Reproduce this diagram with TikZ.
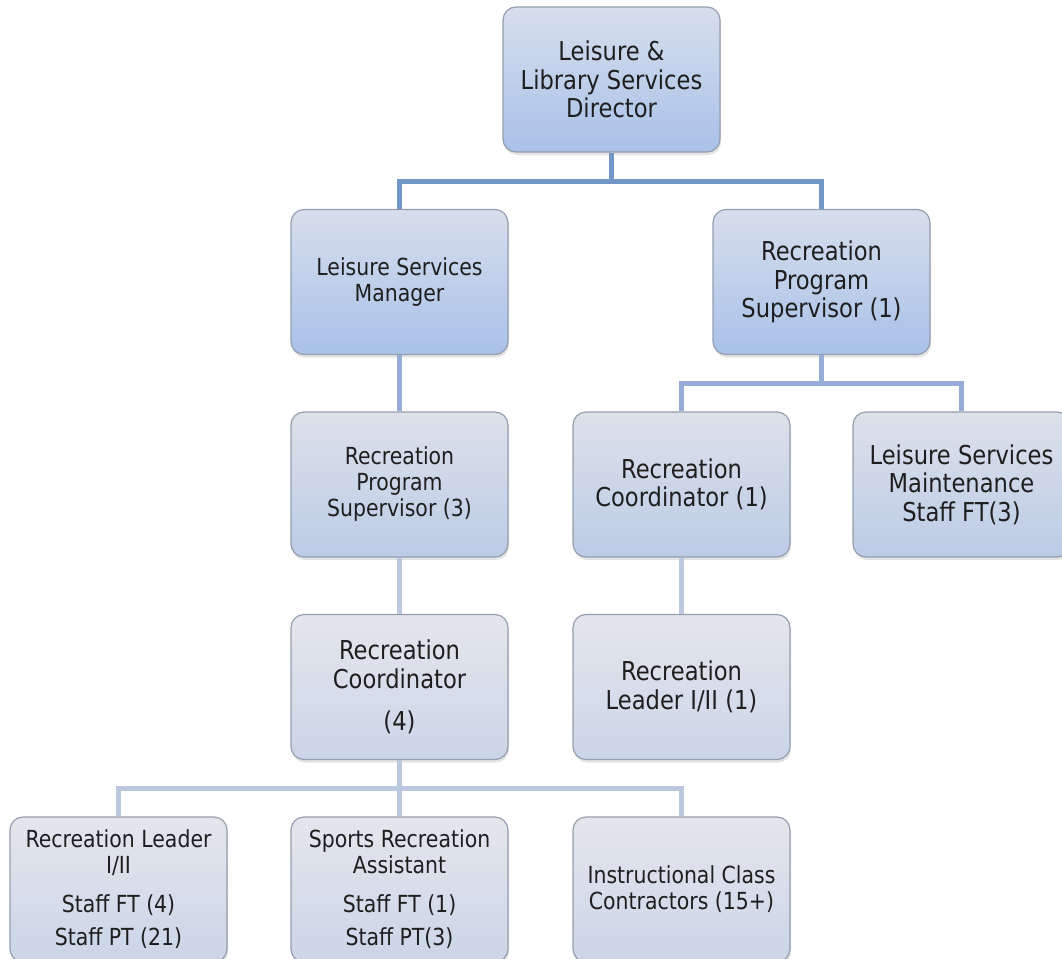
\documentclass[tikz,border=0pt]{standalone}
\usepackage{fontspec}
\setmainfont{DejaVu Sans}[FakeStretch=0.87]
\usetikzlibrary{shadows}

\definecolor{ink}{HTML}{1E1E1E}
\definecolor{boxline}{HTML}{949EAE}
\definecolor{tAtop}{HTML}{D7DEEC}
\definecolor{tAbot}{HTML}{A9C1E9}
\definecolor{tBtop}{HTML}{DDE1EA}
\definecolor{tBbot}{HTML}{BCCBE6}
\definecolor{tCtop}{HTML}{E4E6EC}
\definecolor{tCbot}{HTML}{CBD5E8}
\definecolor{linkA}{HTML}{7495C8}
\definecolor{linkB}{HTML}{96AED7}
\definecolor{linkC}{HTML}{BCC8DF}

\tikzset{
  orgbox/.style={draw=boxline, line width=1.2pt, rounded corners=13pt,
    minimum width=217pt, minimum height=145pt, inner sep=0pt,
    align=center, text=ink,
    drop shadow={opacity=0.22, shadow xshift=1pt, shadow yshift=-3pt}},
  tierA/.style={orgbox, top color=tAtop, bottom color=tAbot},
  tierB/.style={orgbox, top color=tBtop, bottom color=tBbot},
  tierC/.style={orgbox, top color=tCtop, bottom color=tCbot},
  bigtext/.style={font=\fontsize{26}{28.5}\selectfont},
  smalltext/.style={font=\fontsize{23.5}{26}\selectfont},
  linkAline/.style={draw=linkA, line width=5pt},
  linkBline/.style={draw=linkB, line width=5pt},
  linkCline/.style={draw=linkC, line width=5pt},
}

\begin{document}
\begin{tikzpicture}[x=1pt, y=-1pt]
\useasboundingbox (0,0) rectangle (1062,958);

% boxes, top to bottom
\node[tierA, bigtext]   (dir)   at (611.5, 79.5)  {Leisure \&\\Library Services\\Director};
\node[tierA, smalltext] (lsm)   at (399.5, 282)   {Leisure Services\\Manager};
\node[tierA, bigtext]   (rpsa)  at (821.5, 282)   {Recreation\\Program\\Supervisor (1)};
\node[tierB, smalltext] (rpsb)  at (399.5, 484.5) {Recreation\\Program\\Supervisor (3)};
\node[tierB, bigtext]   (rca)   at (681.5, 484.5) {Recreation\\Coordinator (1)};
\node[tierB, bigtext]   (maint) at (961.5, 484.5) {Leisure Services\\Maintenance\\Staff FT(3)};
\node[tierC, bigtext]   (rcb)   at (399.5, 687)   {Recreation\\Coordinator\\[14pt](4)};
\node[tierC, bigtext]   (rla)   at (681.5, 687)   {Recreation\\Leader I/II (1)};
\node[tierC, smalltext] (rlb)   at (118.5, 889.5) {Recreation Leader\\I/II\\[13pt]Staff FT (4)\\[7pt]Staff PT (21)};
\node[tierC, smalltext] (sra)   at (399.5, 889.5) {Sports Recreation\\Assistant\\[13pt]Staff FT (1)\\[7pt]Staff PT(3)};
\node[tierC, smalltext] (icc)   at (681.5, 889.5) {Instructional Class\\Contractors (15+)};

% reporting lines
\draw[linkAline] (dir.south) -- ++(0,28.5) -| (lsm.north);
\draw[linkAline] (dir.south) -- ++(0,28.5) -| (rpsa.north);

\draw[linkBline] (lsm.south) -- (rpsb.north);
\draw[linkBline] (rpsa.south) -- ++(0,28.5) -| (rca.north);
\draw[linkBline] (rpsa.south) -- ++(0,28.5) -| (maint.north);

\draw[linkCline] (rpsb.south) -- (rcb.north);
\draw[linkCline] (rca.south) -- (rla.north);
\draw[linkCline] (rcb.south) -- ++(0,28.5) -| (rlb.north);
\draw[linkCline] (rcb.south) -- ++(0,28.5) -| (sra.north);
\draw[linkCline] (rcb.south) -- ++(0,28.5) -| (icc.north);
\end{tikzpicture}
\end{document}
